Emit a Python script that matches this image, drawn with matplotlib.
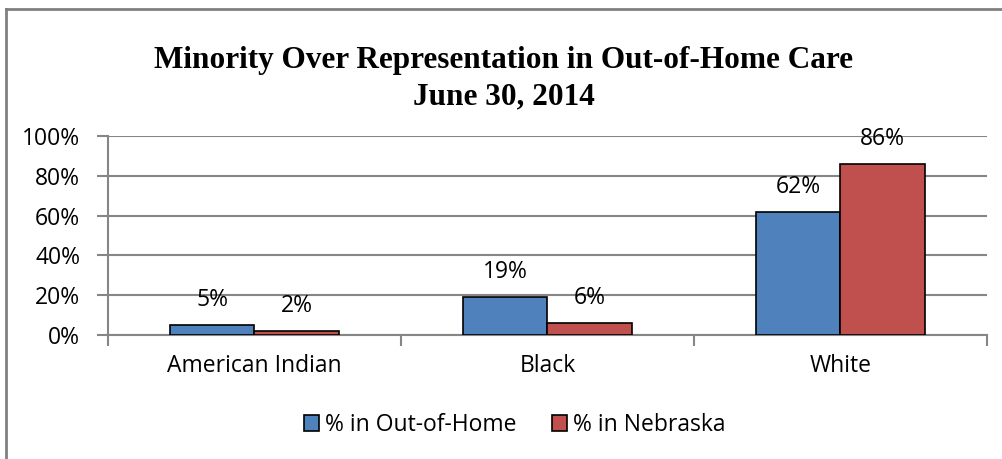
import matplotlib.pyplot as plt
import matplotlib.lines as mlines
import numpy as np

# Данные графика
categories = ["American Indian", "Black", "White"]
out_of_home = [5, 19, 62]
nebraska = [2, 6, 86]
series_names = ["% in Out-of-Home", "% in Nebraska"]
y_ticks = [0, 20, 40, 60, 80, 100]

blue = "#4F81BD"
red = "#C0504D"
grid_gray = "#868686"
label_font = "Open Sans"
fs = 16.5

fig = plt.figure(figsize=(10.03, 4.59), dpi=100)
ax = fig.add_axes([108 / 1003, 1 - 335 / 459, (987 - 108) / 1003, (335 - 136) / 459])

x = np.arange(len(categories))
w = 0.287
b1 = ax.bar(x - w / 2, out_of_home, w, color=blue, edgecolor="black", linewidth=1.2,
            label=series_names[0], zorder=3)
b2 = ax.bar(x + w / 2, nebraska, w, color=red, edgecolor="black", linewidth=1.2,
            label=series_names[1], zorder=3)

# Подписи значений над столбцами
for bars, vals in ((b1, out_of_home), (b2, nebraska)):
    for rect, v in zip(bars, vals):
        ax.annotate(f"{v}%", (rect.get_x() + rect.get_width() / 2, v),
                    xytext=(0, 18), textcoords="offset points",
                    ha="center", va="center", fontsize=fs, family=label_font)

ax.set_xlim(-0.5, 2.5)
ax.set_ylim(0, 100)
ax.set_yticks(y_ticks)
ax.set_yticklabels([f"{t}%" for t in y_ticks], fontsize=fs, family=label_font)
ax.set_xticks(x)
ax.set_xticklabels(categories, fontsize=fs, family=label_font)
ax.tick_params(axis="x", length=0, pad=14)
ax.tick_params(axis="y", length=8, color=grid_gray, width=1.5, pad=12)

# Деления между категориями
ax.set_xticks([-0.5, 0.5, 1.5, 2.5], minor=True)
ax.tick_params(axis="x", which="minor", length=8, color=grid_gray, width=1.5)

ax.grid(axis="y", color=grid_gray, linewidth=1.5, zorder=0)
for s in ("top", "right"):
    ax.spines[s].set_visible(False)
ax.spines["left"].set_color(grid_gray)
ax.spines["left"].set_linewidth(1.5)
ax.spines["bottom"].set_color(grid_gray)
ax.spines["bottom"].set_linewidth(1.5)

fig.text(504 / 1003, 1 - 79 / 459, "Minority Over Representation in Out-of-Home Care\nJune 30, 2014",
         ha="center", va="center", fontsize=22.5, fontweight="bold",
         family="Liberation Serif", linespacing=1.35)

fig.legend(handles=[b1, b2], loc="center", bbox_to_anchor=(515 / 1003, 1 - 425 / 459),
           ncol=2, frameon=False, prop={"family": label_font, "size": fs},
           handlelength=0.65, handleheight=0.65, handletextpad=0.26, columnspacing=1.57,
           borderpad=0, borderaxespad=0)

# Рамка вокруг диаграммы
fig.add_artist(mlines.Line2D([6 / 1003, 1], [1 - 9 / 459] * 2, color="#808080", linewidth=2))
fig.add_artist(mlines.Line2D([6 / 1003] * 2, [0, 1 - 9 / 459], color="#808080", linewidth=2))

fig.savefig("out.png", dpi=100)
